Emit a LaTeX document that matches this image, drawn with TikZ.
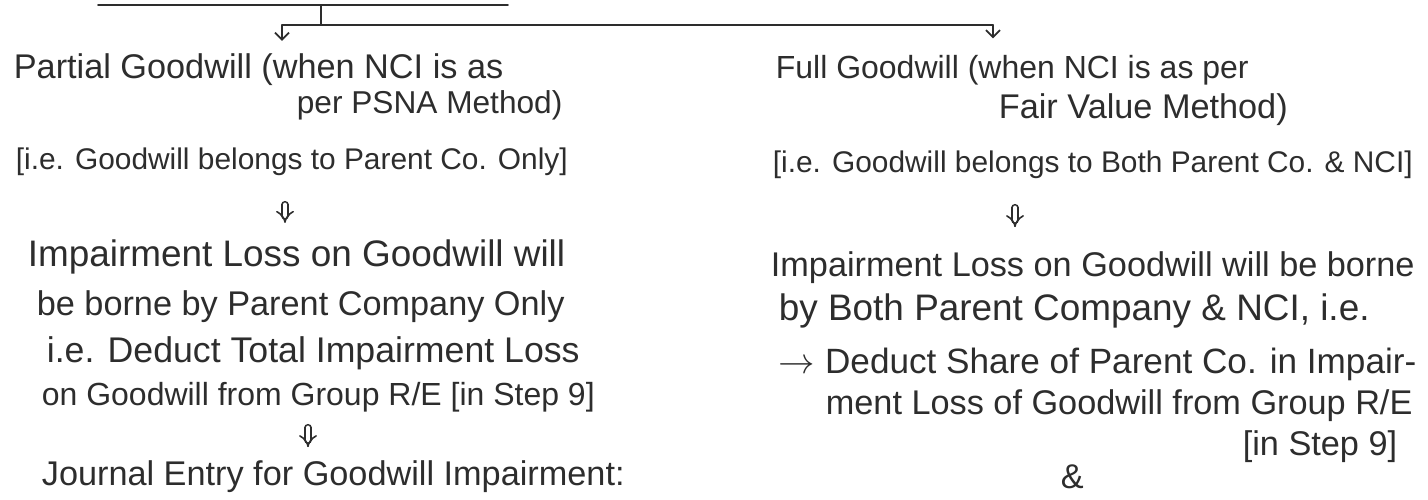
\documentclass[tikz,border=0pt]{standalone}
\usepackage{xcolor}
\usepackage{fontspec}
\setmainfont{Liberation Sans}
\usepackage{tikz}
\usetikzlibrary{arrows.meta}
\definecolor{ink}{RGB}{45,45,45}

\begin{document}
\begin{tikzpicture}[>={Straight Barb[length=4pt,width=8pt]}, line width=1pt, line cap=round, color=ink,
  sz/.style={font=\fontsize{#1}{#1}\selectfont},
  every node/.style={anchor=west, inner sep=0pt, sz=19.5},
  dbl/.style={double, double distance=2.6pt, line width=0.9pt, -{Implies}}]
  \useasboundingbox (0,0) rectangle (28.56,-10);

  % Left branch: partial goodwill
  \node (partA) at (0.26,-1.4) {Partial Goodwill (when NCI is as};
  \node[sz=18] (partB) at (5.92,-2.1) {per PSNA Method)};
  \node[sz=17] (brL) at (0.3,-3.24) {[i.e. Goodwill belongs to Parent Co. Only]};
  \node[sz=21] (impL1) at (0.54,-5.14) {Impairment Loss on Goodwill will};
  \node (impL2) at (0.72,-6.14) {be borne by Parent Company Only};
  \node[sz=20.3] (impL3) at (0.92,-7.06) {i.e. Deduct Total Impairment Loss};
  \node[sz=18.2] (impL4) at (0.82,-7.94) {on Goodwill from Group R/E [in Step 9]};
  \node (jrnl) at (0.82,-9.54) {Journal Entry for Goodwill Impairment:};

  % Right branch: full goodwill
  \node[sz=18.2] (fullA) at (15.5,-1.4) {Full Goodwill (when NCI is as per};
  \node (fullB) at (19.96,-2.2) {Fair Value Method)};
  \node[sz=17] (brR) at (15.44,-3.3) {[i.e. Goodwill belongs to Both Parent Co. \& NCI]};
  \node (impR1) at (15.4,-5.36) {Impairment Loss on Goodwill will be borne};
  \node[sz=21] (impR2) at (15.56,-6.22) {by Both Parent Company \& NCI, i.e.};
  \node[sz=20] (impR3) at (15.56,-7.28) {$\rightarrow$ Deduct Share of Parent Co. in Impair-};
  \node (impR4) at (16.5,-8.12) {ment Loss of Goodwill from Group R/E};
  \node[anchor=east] (stepR) at (27.96,-8.94) {[in Step 9]};
  \node (amp) at (21.2,-9.54) {\&};

  % Split from the heading
  \coordinate (ulL) at (1.96,-0.1);
  \coordinate (ulR) at (10.16,-0.1);
  \coordinate (split) at (6.42,-0.5);
  \coordinate (dropL) at (5.64,-0.5);
  \coordinate (dropR) at (19.86,-0.5);
  \draw (ulL) -- (ulR);
  \draw (split |- ulL) -- (split);
  \draw (dropL) -- (dropR);
  \draw[->, shorten >=7pt] (dropL) -- (dropL |- partA.north);
  \draw[->, shorten >=9pt] (dropR) -- (dropR |- fullA.north);

  % Implies arrows
  \coordinate (xL1) at (5.7,0);
  \coordinate (xL2) at (6.16,0);
  \coordinate (xR1) at (20.3,0);
  \draw[dbl, shorten <=0.56cm, shorten >=0.32cm] (brL.south -| xL1) -- (impL1.north -| xL1);
  \draw[dbl, shorten <=0.3cm, shorten >=0.26cm] (impL4.south -| xL2) -- (jrnl.north -| xL2);
  \draw[dbl, shorten <=0.56cm, shorten >=0.48cm] (brR.south -| xR1) -- (impR1.north -| xR1);
\end{tikzpicture}
\end{document}
